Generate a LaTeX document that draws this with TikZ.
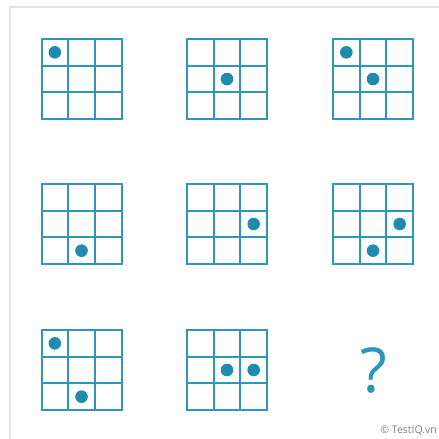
\documentclass[tikz,border=0pt]{standalone}
\usepackage{fontspec}
\setmainfont{Open Sans}
\definecolor{gridc}{HTML}{2E96B8}
\definecolor{dotc}{HTML}{1F8BAE}
\definecolor{framec}{HTML}{E2E2E2}
\definecolor{copyc}{HTML}{7F7F7F}
\tikzset{
  gridline/.style={draw=gridc, line width=2pt},
  dotmark/.style={fill=dotc},
  framel/.style={draw=framec, line width=1.5pt},
}
\newcommand{\puzzlegrid}[3]{% x, y, list of col/row
  \draw[gridline] (#1,#2) rectangle ++(80,80);
  \draw[gridline] (#1+26.667,#2) -- ++(0,80);
  \draw[gridline] (#1+53.333,#2) -- ++(0,80);
  \draw[gridline] (#1,#2+26.667) -- ++(80,0);
  \draw[gridline] (#1,#2+53.333) -- ++(80,0);
  \foreach \c/\r in {#3} {
    \fill[dotmark] (#1+13.333+26.667*\c, #2+13.333+26.667*\r) circle (6.3);
  }
}
\begin{document}
\begin{tikzpicture}[x=1pt,y=-1pt]
\useasboundingbox (0,0) rectangle (439,439);
\draw[framel] (10,439) -- (10,6.8) -- (439,6.8);
\puzzlegrid{41.5}{39}{0/0}
\puzzlegrid{187}{39}{1/1}
\puzzlegrid{333}{39}{0/0,1/1}
\puzzlegrid{41.5}{184}{1/2}
\puzzlegrid{187}{184}{2/1}
\puzzlegrid{333}{184}{2/1,1/2}
\puzzlegrid{41.5}{330}{0/0,1/2}
\puzzlegrid{187}{330}{1/1,2/1}
\node[text=gridc, font=\fontsize{62}{64}\selectfont, inner sep=0pt, anchor=base] (q) at (373.5,392) {?};
\node[text=copyc, font=\fontsize{10.5}{12}\selectfont, inner sep=0pt, anchor=base east] (copy) at (437,433.5) {© TestIQ.vn};
\end{tikzpicture}
\end{document}
